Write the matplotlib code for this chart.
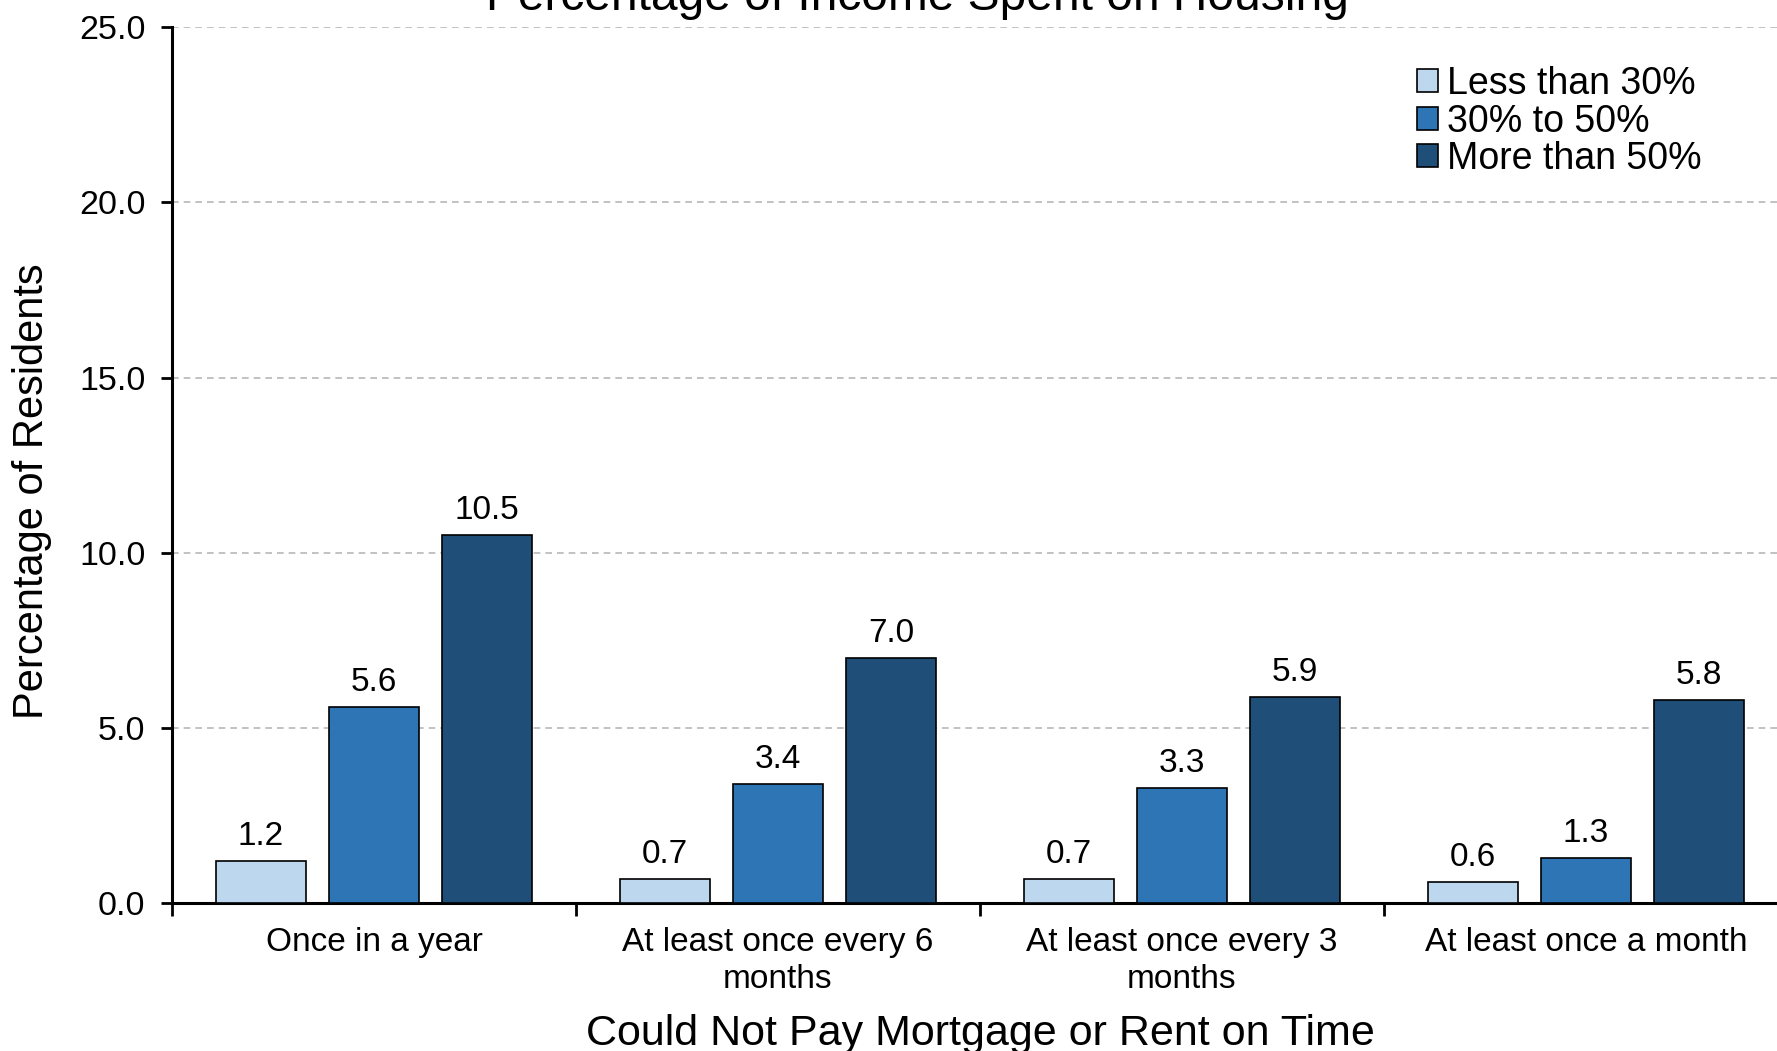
import matplotlib
matplotlib.use("Agg")
import matplotlib.pyplot as plt
import numpy as np

plt.rcParams['font.family'] = ['Liberation Sans', 'DejaVu Sans']

categories = ["Once in a year", "At least once every 6\nmonths",
              "At least once every 3\nmonths", "At least once a month"]
series_names = ["Less than 30%", "30% to 50%", "More than 50%"]
less_30 = [1.2, 0.7, 0.7, 0.6]
mid_30_50 = [5.6, 3.4, 3.3, 1.3]
more_50 = [10.5, 7.0, 5.9, 5.8]
colors = ["#bdd7ee", "#2e75b6", "#1f4e79"]
yticks = [0, 5, 10, 15, 20, 25]

fig = plt.figure(figsize=(17.77, 10.51), dpi=100)
ax = fig.add_axes([0.0968, 0.1405, 0.9094, 0.8337])

x = np.arange(len(categories))
offset = 0.28
width = 0.222
for i, (vals, name, c) in enumerate(zip([less_30, mid_30_50, more_50], series_names, colors)):
    bars = ax.bar(x + (i - 1) * offset, vals, width, color=c, edgecolor='black',
                  linewidth=1.2, label=name, zorder=3)
    ax.bar_label(bars, labels=[f"{v:.1f}" for v in vals], padding=6.5, fontsize=24)

ax.set_xlim(-0.5, 3.5)
ax.set_ylim(0, 25)
ax.set_yticks(yticks)
ax.set_yticklabels([f"{v:.1f}" for v in yticks])
ax.yaxis.grid(True, linestyle=(0, (4, 3)), color='#b8b8b8', linewidth=1.2, zorder=0)
ax.set_axisbelow(True)

ax.set_xticks([-0.5, 0.5, 1.5, 2.5, 3.5])
ax.set_xticklabels([])
ax.set_xticks(x, minor=True)
ax.set_xticklabels(categories, minor=True, fontsize=24, linespacing=1.25)
ax.tick_params(axis='x', which='minor', length=0, pad=17)
ax.tick_params(axis='x', which='major', length=9, width=2, direction='out')
ax.tick_params(axis='y', length=8, width=2, labelsize=24.5, pad=11)

for s in ['top', 'right']:
    ax.spines[s].set_visible(False)
for s in ['left', 'bottom']:
    ax.spines[s].set_linewidth(2.2)

fig.text(917 / 1777, 1 - 10 / 1051, "Percentage of Income Spent on Housing",
         ha='center', va='baseline', fontsize=34.5)
fig.text(980 / 1777, 1 - 1045 / 1051, "Could Not Pay Mortgage or Rent on Time",
         ha='center', va='baseline', fontsize=31)
fig.text(32 / 1777, 1 - 491 / 1051, "Percentage of Residents",
         ha='center', va='center', rotation=90, fontsize=30)

leg = ax.legend(loc='upper left', bbox_to_anchor=(1417 / 1777, 1 - 66 / 1051),
                bbox_transform=fig.transFigure, frameon=False, fontsize=27,
                handlelength=0.55, handleheight=0.55, handletextpad=0.25,
                labelspacing=0.04, borderpad=0, borderaxespad=0)

fig.savefig("out.png", dpi=100)
